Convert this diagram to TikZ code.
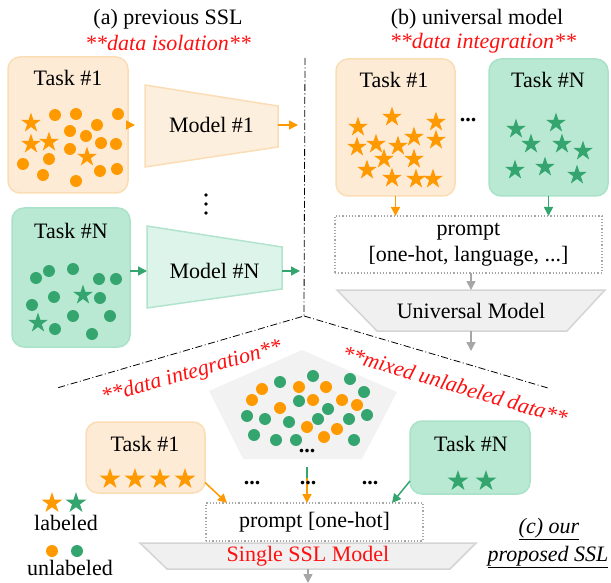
\documentclass[tikz,border=0pt]{standalone}
\usepackage{fontspec}
\setmainfont{Liberation Serif}
\usetikzlibrary{arrows.meta,shapes.geometric,calc}
\definecolor{myor}{HTML}{FF9900}
\definecolor{mygr}{HTML}{34A56F}
\definecolor{orfill}{HTML}{FDEBD6}
\definecolor{orline}{HTML}{FBDDB5}
\definecolor{grfill}{HTML}{B9E9D3}
\definecolor{grline}{HTML}{A9E2C8}
\definecolor{modorfill}{HTML}{FDEFDD}
\definecolor{modgrfill}{HTML}{DCF4EA}
\definecolor{modgrline}{HTML}{B2E4CD}
\definecolor{gfill}{HTML}{F0F0F0}
\definecolor{gline}{HTML}{D4D4D4}
\definecolor{garr}{HTML}{A6A6A6}
\definecolor{pentfill}{HTML}{F2F2F2}
\definecolor{redtxt}{HTML}{FF1010}
\begin{document}
\begin{tikzpicture}[x=1pt,y=-1pt,
  every node/.style={font=\fontsize{22}{25}\selectfont, inner sep=0pt, outer sep=0pt},
  taskor/.style={draw=orline, fill=orfill, line width=1.5pt, rounded corners=12pt},
  taskgr/.style={draw=grline, fill=grfill, line width=1.5pt, rounded corners=12pt},
  ostar/.style={star, star points=5, star point ratio=2.618, fill=myor, minimum size=21pt, inner sep=0pt},
  gstar/.style={star, star points=5, star point ratio=2.618, fill=mygr, minimum size=21pt, inner sep=0pt},
  redit/.style={text=redtxt, font=\fontsize{22}{25}\selectfont\itshape},
  oarr/.style={draw=myor, line width=1.5pt, -{Triangle[length=9pt,width=9pt]}},
  garr2/.style={draw=mygr, line width=1.5pt, -{Triangle[length=9pt,width=9pt]}},
  grarr/.style={draw=garr, line width=1.5pt, -{Triangle[length=9pt,width=9pt]}},
  promptbox/.style={draw=garr, dotted, line width=1.2pt, fill=white},
  gmodel/.style={draw=gline, fill=gfill, line width=1.5pt},
  dd/.style={black, line width=0.8pt, dash pattern=on 7pt off 2.5pt on 1pt off 2.5pt},
  bdots/.style={font=\fontsize{22}{25}\selectfont\bfseries}
]
\useasboundingbox (0,0) rectangle (611,583);

% ---------------- (a) previous SSL ----------------
\node (ta) at (168,19) {(a) previous SSL};
\node[redit] (tai) at (168,43) {**data isolation**};

\node[taskor, minimum width=120pt, minimum height=136pt] (lt1) at (68,125) {};
\node (lt1l) at (68,78) {Task \#1};
\foreach \p [count=\i] in {(55,115),(76,114),(118,114),(70,131),(97,125),(86,136),(101,143),(116,144),(70,149),(49,159),(23,164),(100,171),(117,169),(43,175),(76,181)}
  \fill[myor] \p circle (6pt);
\foreach \p [count=\i] in {(31,123),(31,144),(49,142),(87,157)}
  \node[ostar] (las\i) at \p {};

\draw[draw=orline, fill=modorfill, line width=1.5pt] (145,85) -- (278,106) -- (278,147) -- (145,167) -- cycle;
\node[minimum width=133pt, minimum height=20pt] (lm1) at (211.5,125) {Model \#1};
\draw[oarr, shorten >=10pt] (lt1.east) -- (lm1.west);
\coordinate (ld1) at (298,125);
\draw[oarr] (lm1.east) -- (ld1);

\foreach \yy in {195,204,213} \fill[black] (206,\yy) circle (1.8pt);

\node[taskgr, minimum width=118pt, minimum height=139pt] (ltN) at (71,277.5) {};
\node (ltNl) at (71,231) {Task \#N};
\foreach \p in {(36,278),(49,271),(73,269),(99,279),(116,279),(54,297),(100,298),(32,305),(73,316),(110,316),(55,329),(92,334)}
  \fill[mygr] \p circle (6pt);
\foreach \p [count=\i] in {(83,295),(38,323)}
  \node[gstar] (lgs\i) at \p {};

\draw[draw=modgrline, fill=modgrfill, line width=1.5pt] (147,226) -- (282,247) -- (282,289) -- (147,308) -- cycle;
\node[minimum width=135pt, minimum height=20pt] (lmN) at (214.5,271) {Model \#N};
\draw[garr2] (ltN.east |- lmN) -- (lmN.west);
\coordinate (ldN) at (300,271);
\draw[garr2] (lmN.east) -- (ldN);

% ---------------- (b) universal model ----------------
\node (tb) at (477,19) {(b) universal model};
\node[redit] (tbi) at (483,43) {**data integration**};

\node[taskor, minimum width=119pt, minimum height=137pt] (rt1) at (395.5,127.5) {};
\node (rt1l) at (394,80) {Task \#1};
\foreach \p [count=\i] in {(358,127),(392,117),(436,122),(357,147),(376,144),(398,146),(414,137),(436,140),(384,159),(414,159),(367,170),(392,178),(416,179),(433,179)}
  \node[ostar] (ros\i) at \p {};

\node[taskgr, minimum width=119pt, minimum height=137pt] (rtN) at (548.5,127.5) {};
\node (rtNl) at (548,80) {Task \#N};
\foreach \p [count=\i] in {(516,129),(556,123),(531,144),(562,144),(583,151),(515,170),(545,167),(577,175)}
  \node[gstar] (rgs\i) at \p {};

\node[bdots] (rdots) at (468,120) {...};

\node[promptbox, minimum width=267pt, minimum height=57pt, align=center] (pr) at (468.5,244.5) {prompt\\[1pt][one-hot, language, ...]};
\draw[oarr] (rt1.south) -- (rt1.south |- pr.north);
\draw[garr2] (rtN.south) -- (rtN.south |- pr.north);

\draw[gmodel] (337,290) -- (605,290) -- (567,331) -- (377,331) -- cycle;
\node[minimum width=268pt, minimum height=41pt] (um) at (471,310.5) {Universal Model};
\draw[grarr] (pr.south -| um) -- (um.north);
\coordinate (uo) at (471,351);
\draw[grarr] (um.south) -- (uo);

% ---------------- separators ----------------
\coordinate (dtop) at (305,58);
\coordinate (dmid) at (304,316);
\coordinate (dl) at (57,388);
\coordinate (dr) at (548,388);
\draw[dd] (dtop) -- (dmid) -- (dl);
\draw[dd] (dmid) -- (dr);

% ---------------- (c) our proposed SSL ----------------
\node[redit, rotate=16] (ci1) at (192,373) {**data integration**};
\node[redit, rotate=-16.5] (ci2) at (455,385) {**mixed unlabeled data**};

\fill[pentfill] (302,350) -- (397,392) -- (362,459) -- (243,459) -- (209,391) -- cycle;
\foreach \p in {(262,389),(252,400),(299,387),(326,387),(313,400),(280,408),(342,400),(357,405),(307,427),(337,429),(324,437)}
  \fill[myor] \p circle (6pt);
\foreach \p in {(280,382),(313,376),(350,379),(364,392),(299,401),(328,409),(247,416),(265,419),(289,422),(318,419),(349,419),(367,415),(254,435),(276,440),(296,440),(354,440)}
  \fill[mygr] \p circle (6pt);
\node[bdots] (pdots) at (307,451) {...};

\node[taskor, minimum width=119pt, minimum height=71pt] (bt1) at (145.5,457.5) {};
\node (bt1l) at (145,444) {Task \#1};
\foreach \p [count=\i] in {(110,479),(135,479),(160,479),(185,479)}
  \node[ostar, minimum size=22pt] (bos\i) at \p {};

\node[taskgr, minimum width=120pt, minimum height=73pt] (btN) at (470,457.5) {};
\node (btNl) at (471,444) {Task \#N};
\foreach \p [count=\i] in {(458,481),(486,481)}
  \node[gstar, minimum size=22pt] (bgs\i) at \p {};

\node[bdots] (bd1) at (252,483) {...};
\node[bdots] (bd3) at (370,483) {...};

\draw[gmodel] (140,543) -- (476,543) -- (450,569) -- (167,569) -- cycle;
\node[text=redtxt, minimum width=300pt, minimum height=26pt] (ssl) at (308,556) {Single SSL Model};

\node[promptbox, minimum width=217pt, minimum height=38pt] (pb) at (314.5,522) {prompt [one-hot]};

\coordinate (pc) at (307,467);
\draw[mygr, line width=1.5pt] (pc) -- (307,482);
\draw[oarr] (307,478) -- (pb.north -| pc);
\node[bdots] (bd2) at (308,483) {...};

\draw[oarr] ([yshift=-25pt]bt1.east) -- ([xshift=21pt]pb.north west);
\draw[garr2] ([yshift=-23.5pt]btN.west) -- ([xshift=-31pt]pb.north east);

\coordinate (so) at (308,583);
\draw[grarr] (ssl.south) -- (so);

% legend
\node[ostar, minimum size=22pt] (lgo) at (52,503) {};
\node[gstar, minimum size=22pt] (lgg) at (76,503) {};
\node (lgl) at (66,523) {labeled};
\fill[myor] (52,551) circle (6pt);
\fill[mygr] (77,551) circle (6pt);
\node (lgu) at (70,568) {unlabeled};

\node (c1) at (549,529) {\underline{\textit{(c) our}}};
\node (c2) at (548,557) {\underline{\textit{proposed SSL}}};
\end{tikzpicture}
\end{document}
